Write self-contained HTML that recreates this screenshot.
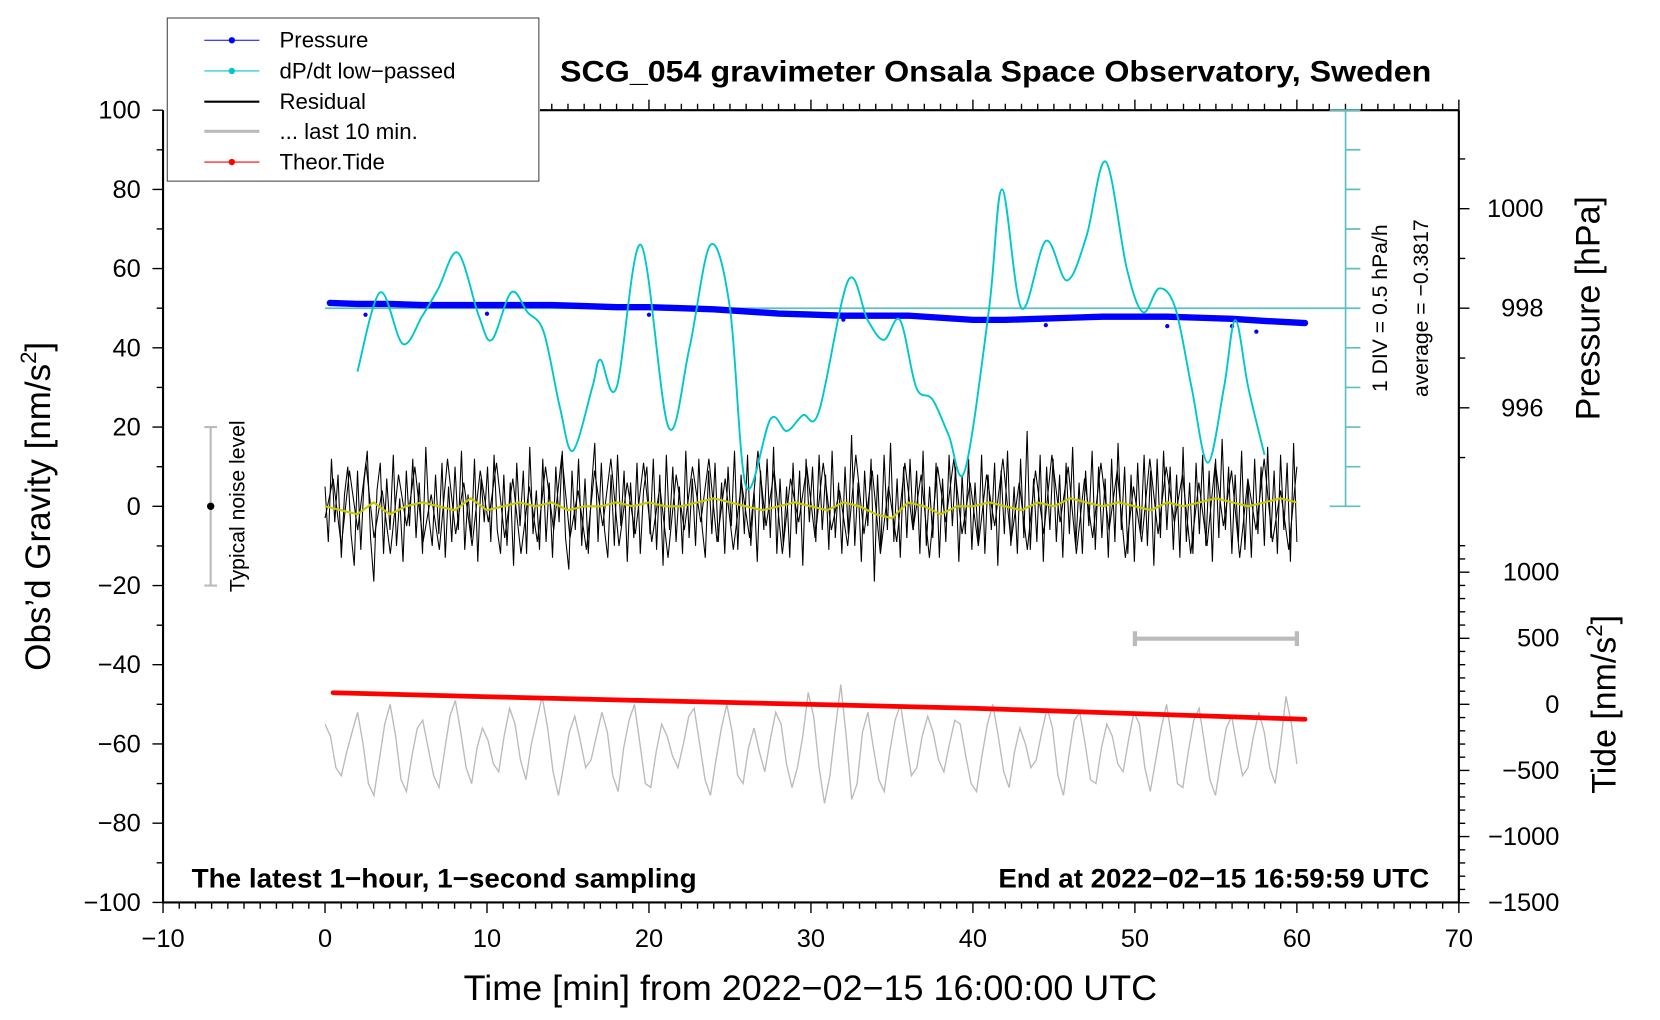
<!DOCTYPE html>
<html><head><meta charset="utf-8"><style>
html,body{margin:0;padding:0;background:#fff;width:1660px;height:1020px;overflow:hidden}
svg{display:block;font-family:"Liberation Sans",Arial,sans-serif}
</style></head><body>
<svg id="chart" width="1660" height="1020" viewBox="0 0 1568 963" preserveAspectRatio="none" xmlns="http://www.w3.org/2000/svg">
<g id="axes"></g>
<g id="series"></g>
<g id="texts">
<text x="529" y="77" font-size="28" font-weight="bold" textLength="823" lengthAdjust="spacingAndGlyphs">SCG_054 gravimeter Onsala Space Observatory, Sweden</text>
<text x="181" y="838" font-size="25" font-weight="bold" textLength="477" lengthAdjust="spacingAndGlyphs">The latest 1−hour, 1−second sampling</text>
<text x="943" y="838" font-size="25" font-weight="bold" textLength="407" lengthAdjust="spacingAndGlyphs">End at 2022−02−15 16:59:59 UTC</text>
<text x="438" y="944" font-size="33" textLength="655" lengthAdjust="spacingAndGlyphs">Time [min] from 2022−02−15 16:00:00 UTC</text>
<text transform="translate(47,478) rotate(-90)" font-size="33" text-anchor="middle">Obs’d Gravity [nm/s<tspan font-size="21" dy="-13">2</tspan><tspan dy="13">]</tspan></text>
<text transform="translate(1511,291) rotate(-90)" font-size="32" text-anchor="middle">Pressure [hPa]</text>
<text transform="translate(1526,665) rotate(-90)" font-size="32" text-anchor="middle">Tide [nm/s<tspan font-size="21" dy="-13">2</tspan><tspan dy="13">]</tspan></text>
<text transform="translate(1310,291) rotate(-90)" font-size="20" text-anchor="middle">1 DIV = 0.5 hPa/h</text>
<text transform="translate(1349,291) rotate(-90)" font-size="20" text-anchor="middle">average = −0.3817</text>
<text transform="translate(231,478) rotate(-90)" font-size="20" text-anchor="middle">Typical noise level</text>
</g>
<g id="legend">
<rect x="158" y="17" width="351" height="154" fill="#fff" stroke="#444" stroke-width="1"/>
<g><line x1="193" y1="38" x2="245" y2="38" stroke="#0000ff" stroke-width="1"/><circle cx="219" cy="38" r="3" fill="#0000ff"/><text x="264" y="45" font-size="21">Pressure</text></g>
<g><line x1="193" y1="67" x2="245" y2="67" stroke="#00c8c8" stroke-width="1"/><circle cx="219" cy="67" r="3" fill="#00c8c8"/><text x="264" y="74" font-size="21">dP/dt low−passed</text></g>
<g><line x1="193" y1="96" x2="245" y2="96" stroke="#000" stroke-width="2"/><text x="264" y="103" font-size="21">Residual</text></g>
<g><line x1="193" y1="124" x2="245" y2="124" stroke="#bbb" stroke-width="3"/><text x="264" y="131" font-size="21">... last 10 min.</text></g>
<g><line x1="193" y1="153" x2="245" y2="153" stroke="#ff0000" stroke-width="1"/><circle cx="219" cy="153" r="3" fill="#ff0000"/><text x="264" y="160" font-size="21">Theor.Tide</text></g>
</g>
</svg>
<script>
// ---- data ----
const xTicks = [-10,0,10,20,30,40,50,60,70];
const yTicks = [100,80,60,40,20,0,-20,-40,-60,-80,-100];
const pTicks = [1000,998,996];
const tideTicks = [1000,500,0,-500,-1000,-1500];
const pressureTimes = [0.3,2,4,6,8,10,12,14,16,18,20,22,24,26,28,30,32,34,36,38,40,42,44,46,48,50,52,54,56,58,60.5];
const pressureValues = [998.106,998.085,998.085,998.064,998.064,998.064,998.064,998.064,998.043,998.021,998.021,998.0,997.979,997.936,997.894,997.872,997.851,997.851,997.851,997.809,997.766,997.766,997.787,997.809,997.830,997.830,997.830,997.809,997.787,997.745,997.702];
const pressureOutlierTimes = [2.5,10,20,32,44.5,52,56,57.5];
const pressureOutlierValues = [997.87,997.89,997.87,997.77,997.66,997.64,997.64,997.53];
const dpdtTimes = [2,3.4,4.8,6,7,8.2,9.5,10.3,11.5,12.5,13.5,14.5,15.3,16.5,17,18,19.5,21.2,22.5,23.8,25,26,27.5,28.5,29.5,30.5,32.3,33.5,34.5,35.5,36.5,37.5,38.5,39.5,41,41.8,43,44.5,45.8,47,48.2,49.5,50.5,51.5,52.5,53.5,54.5,55.5,56.2,57,58];
const dpdtValues = [34,54,41,48,55,64,48,42,54,49,44,25,14,30,37,30,66,20,40,66,50,5,22,19,23,24,57,47,42,47,30,27,18,9,50,80,50,67,57,68,87,60,49,55,50,30,11,30,47,30,13];
const residualValues = [5,-9,12,-4,8,-13,3,10,-7,-15,9,-11,6,14,-8,-19,4,11,-12,7,
-6,13,-10,2,-14,9,-5,12,-8,6,-12,15,-3,-10,8,-7,11,-13,5,-9,
10,-6,14,-11,3,-8,12,-14,7,-4,10,-9,13,-6,-12,8,-10,6,-15,11,
-5,9,-12,15,-7,4,-11,12,-9,6,-13,10,-4,14,-8,-16,9,-6,12,-10,
7,-12,5,16,-9,11,-6,-13,8,-10,13,-5,9,-14,6,-8,11,-12,4,10,
-7,12,-11,8,-15,13,-6,10,-9,5,-12,14,-8,7,-10,12,-5,-13,9,-7,
11,-9,6,-12,10,-5,14,-11,8,-7,13,-10,4,-14,9,-6,12,-8,15,-12,
7,-10,5,-13,11,-7,9,-15,12,-4,10,-9,13,-6,8,-11,14,-8,6,-12,
10,-7,18,-10,6,-14,9,-5,12,-19,8,-11,13,-6,16,-9,7,-13,10,-8,
12,-6,9,-12,14,-10,5,-8,11,-13,7,-9,13,-5,10,-14,8,-7,12,-11,
6,-9,13,-12,8,-6,11,-15,9,-7,14,-10,5,-12,12,-8,19,-11,7,-9,
13,-14,10,-6,12,-9,8,-13,11,-7,15,-10,6,-12,9,-5,14,-11,10,-8,
7,-13,12,-9,16,-6,10,-12,8,-14,11,-7,13,-10,9,-15,12,-8,14,-6,
10,-11,8,-13,15,-9,6,-12,11,-7,13,-10,9,-14,12,-8,17,-6,10,-12,
8,-9,14,-11,6,-13,12,-7,10,-10,15,-8,9,-12,13,-6,11,-14,16,-9];
const residualValues2 = [-3,7,-10,9,-6,11,-8,4,-12,8,-5,10,-9,3,-11,12,-7,6,-10,9,
-4,11,-8,7,-12,5,-9,10,-6,13,-8,4,-11,9,-5,12,-10,6,-7,11,
-9,5,-13,8,-6,10,-4,12,-9,7,-11,6,-8,14,-5,9,-12,7,-4,10,
-8,11,-6,4,-10,13,-7,9,-12,5,-9,11,-6,8,-13,10,-4,12,-7,6,
-10,8,-5,12,-9,6,-11,9,-7,13,-4,10,-12,7,-8,11,-6,9,-13,5,
-9,12,-7,10,-4,8,-12,6,-10,11,-5,9,-13,7,-6,12,-9,4,-11,10];
const smoothValues = [0,-1,-2,1,-2,0,1,0,-1,2,-1,0,1,0,1,-1,0,0,1,0,1,0,0,1,2,1,0,-1,0,1,0,-1,1,0,-2,-3,1,0,-2,0,0,1,0,-1,1,0,2,1,0,1,0,-1,1,0,1,2,1,0,1,2,1];
const last10Values = [-55,-58,-66,-68,-62,-57,-52,-60,-70,-73,-64,-55,-50,-58,-69,-72,-63,-56,-54,-61,
-68,-71,-62,-53,-49,-57,-66,-70,-61,-56,-59,-65,-67,-58,-51,-55,-64,-69,-60,-54,
-48,-56,-67,-73,-65,-57,-53,-59,-66,-64,-58,-52,-57,-68,-72,-61,-54,-50,-60,-70,
-71,-62,-55,-58,-63,-66,-60,-53,-51,-60,-69,-73,-64,-56,-50,-57,-68,-70,-61,-56,
-62,-67,-59,-52,-55,-65,-71,-66,-58,-47,-53,-66,-75,-68,-56,-45,-58,-74,-70,-57,
-52,-61,-69,-72,-62,-54,-50,-59,-68,-66,-58,-53,-57,-64,-67,-60,-54,-55,-63,-70,
-72,-63,-55,-50,-58,-67,-71,-62,-56,-60,-66,-64,-57,-51,-56,-68,-73,-63,-54,-52,
-60,-69,-70,-61,-55,-58,-65,-67,-59,-52,-55,-66,-72,-64,-56,-50,-59,-70,-71,-62,
-54,-51,-60,-69,-73,-64,-56,-53,-61,-68,-66,-58,-52,-57,-66,-70,-60,-48,-55,-65];
const tideTimes = [0.5,10,20,30,40,50,60.5];
const tideValues = [88,58,28,0,-30,-70,-113];
const noiseLevel = [20,-20];
const last10Range = [50,60];

// ---- scales ----
const X = t => 307 + t*15.3;
const Y = g => 478 - g*3.74;
const P = p => 291 - (p-998)*47;
const T = v => 665 - v*0.1248;
const NS = 'http://www.w3.org/2000/svg';
function mk(parent, tag, attrs){const e=document.createElementNS(NS,tag);for(const k in attrs)e.setAttribute(k,attrs[k]);parent.appendChild(e);return e;}
const ax = document.getElementById('axes');
const se = document.getElementById('series');

let f = mk(ax,'path',{d:'M154,104 V852 H1378 V104 M510,104 H1378',fill:'none',stroke:'#000','stroke-width':2});


let d='';
for(let t=-10;t<=70;t++){const x=X(t);const L=(t%10===0)?10:6;d+=`M${x},852v${L}`;if(x>=510)d+=`M${x},104v${-L}`;}
for(let g=-100;g<=100;g+=10){const L=(g%20===0)?10:6;d+=`M154,${Y(g)}h${-L}`;}
for(let p=995;p<=1001;p++){const L=(p%2===0)?10:6;d+=`M1378,${P(p)}h${L}`;}
for(let v=-1500;v<=1200;v+=100){const L=(v%500===0)?10:6;d+=`M1378,${T(v)}h${L}`;}
let tk=mk(ax,'path',{d,stroke:'#000','stroke-width':1.3,fill:'none'});


xTicks.forEach(t=>{const e=mk(ax,'text',{x:X(t),y:894,'font-size':24,'text-anchor':'middle'});e.textContent=String(t).replace('-','−');

});
yTicks.forEach(g=>{const e=mk(ax,'text',{x:133,y:Y(g)+8,'font-size':24,'text-anchor':'end'});e.textContent=String(g).replace('-','−');

});
pTicks.forEach(p=>{const e=mk(ax,'text',{x:1458,y:P(p)+8,'font-size':24,'text-anchor':'end'});e.textContent=String(p);

});
tideTicks.forEach(v=>{const e=mk(ax,'text',{x:1473,y:T(v)+8,'font-size':24,'text-anchor':'end'});e.textContent=String(v).replace('-','−');

});

let cd='M1271,104V478M1256,104H1285M1256,478H1285M307,291H1285';
for(let g=0;g<=100;g+=10){cd+=`M1271,${Y(g)}h14`;}
let ca=mk(ax,'path',{d:cd,stroke:'#5cc0c0','stroke-width':1.6,fill:'none'});



let nb=mk(se,'path',{d:`M199,${Y(noiseLevel[0])}V${Y(noiseLevel[1])}M193,${Y(noiseLevel[0])}h12M193,${Y(noiseLevel[1])}h12`,stroke:'#bbb','stroke-width':2,fill:'none'});


let nd=mk(se,'circle',{cx:199,cy:Y(0),r:3.5,fill:'#000'});


let lb=mk(se,'path',{d:`M${X(last10Range[0])},603H${X(last10Range[1])}M${X(last10Range[0])},596v14M${X(last10Range[1])},596v14`,stroke:'#bbb','stroke-width':4,fill:'none'});



function poly(vals, tf, yf){return vals.map((v,i)=>`${tf(i).toFixed(1)},${yf(v).toFixed(1)}`).join(' ');}

let gl=mk(se,'polyline',{points:poly(last10Values,i=>X(i*60/(last10Values.length-1)),Y),fill:'none',stroke:'#bbb','stroke-width':1.3});


let tl=mk(se,'polyline',{points:poly(tideValues,i=>X(tideTimes[i]),T),fill:'none',stroke:'#ff0000','stroke-width':4.5,'stroke-linecap':'round'});


let rl=mk(se,'polyline',{points:poly(residualValues,i=>X(i*60/(residualValues.length-1)),Y),fill:'none',stroke:'#000','stroke-width':1});


let rl2=mk(se,'polyline',{points:poly(residualValues2,i=>X(i*60/(residualValues2.length-1)),Y),fill:'none',stroke:'#000','stroke-width':1});


let sl=mk(se,'polyline',{points:poly(smoothValues,i=>X(i*60/(smoothValues.length-1)),Y),fill:'none',stroke:'#c8c800','stroke-width':2});


let pl=mk(se,'polyline',{points:poly(pressureValues,i=>X(pressureTimes[i]),P),fill:'none',stroke:'#0000ff','stroke-width':6,'stroke-linecap':'round','stroke-linejoin':'round'});


pressureOutlierTimes.forEach((t,i)=>{const c=mk(se,'circle',{cx:X(t),cy:P(pressureOutlierValues[i]),r:2,fill:'#0000ff'});

});
const pts=dpdtValues.map((v,i)=>[X(dpdtTimes[i]),Y(v)]);
let cp=`M${pts[0][0]},${pts[0][1]}`;
for(let i=0;i<pts.length-1;i++){const p0=pts[Math.max(0,i-1)],p1=pts[i],p2=pts[i+1],p3=pts[Math.min(pts.length-1,i+2)];
cp+=`C${p1[0]+(p2[0]-p0[0])/6},${p1[1]+(p2[1]-p0[1])/6} ${p2[0]-(p3[0]-p1[0])/6},${p2[1]-(p3[1]-p1[1])/6} ${p2[0]},${p2[1]}`;}
let dl=mk(se,'path',{d:cp,fill:'none',stroke:'#00c8c8','stroke-width':1.8});


</script>
</body></html>
